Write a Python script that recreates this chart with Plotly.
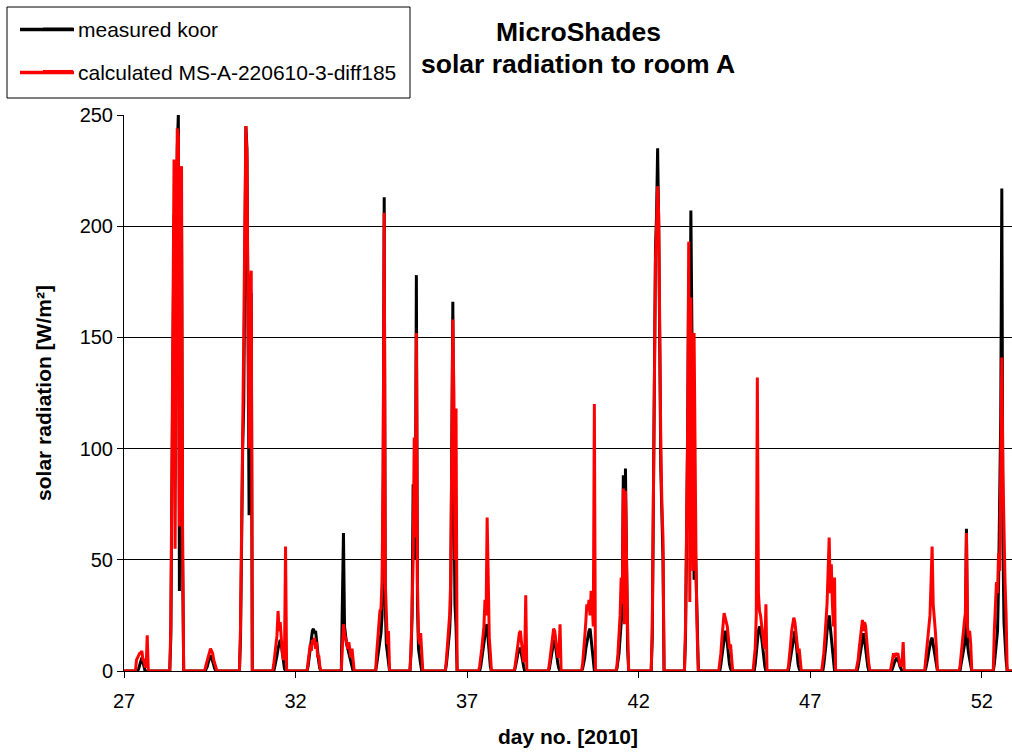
import plotly.graph_objects as go

# ---- data ----
days = list(range(27, 53))
# sample times within each day (hours)
sample_hours = [8, 8.75, 9.5, 10.25, 11, 11.75, 12.5, 13.25, 14, 14.75, 15.5, 16.25, 17, 17.75]

measured_koor = [
    [0, 0, 0, 1, 3, 5, 6, 4, 2, 0, 0, 0, 0, 0],                      # 27
    [0, 15, 90, 180, 205, 150, 200, 235, 250, 36, 190, 200, 50, 0],   # 28
    [0, 0, 1, 2, 4, 6, 7, 6, 4, 2, 1, 0, 0, 0],                       # 29
    [0, 0, 15, 70, 100, 120, 190, 245, 235, 140, 70, 165, 170, 0],    # 30
    [0, 0, 2, 4, 7, 10, 12, 14, 12, 8, 4, 1, 0, 0],                   # 31
    [0, 2, 6, 12, 16, 18, 19, 17, 18, 12, 8, 4, 1, 0],                # 32
    [0, 30, 62, 20, 15, 12, 10, 8, 5, 3, 2, 0, 0, 0],                 # 33
    [0, 3, 6, 10, 14, 17, 25, 80, 213, 30, 12, 8, 5, 0],              # 34
    [0, 8, 25, 84, 70, 50, 178, 30, 10, 5, 3, 0, 0, 0],               # 35
    [0, 0, 3, 8, 12, 18, 30, 95, 166, 80, 30, 20, 0, 0],              # 36
    [0, 0, 2, 5, 8, 12, 16, 20, 21, 14, 6, 2, 0, 0],                  # 37
    [0, 0, 1, 3, 6, 9, 10, 10, 8, 5, 2, 0, 0, 0],                     # 38
    [0, 0, 1, 4, 8, 11, 13, 14, 10, 6, 3, 1, 0, 0],                   # 39
    [0, 1, 3, 6, 10, 13, 16, 18, 19, 15, 10, 5, 0, 0],                # 40
    [0, 1, 4, 8, 15, 25, 28, 88, 25, 91, 30, 10, 0, 0],               # 41
    [0, 0, 15, 70, 140, 190, 205, 235, 200, 130, 90, 70, 50, 0],      # 42
    [0, 15, 55, 105, 180, 120, 207, 150, 60, 41, 60, 35, 10, 0],      # 43
    [0, 0, 3, 7, 12, 16, 18, 17, 12, 7, 3, 1, 0, 0],                  # 44
    [0, 0, 3, 8, 14, 18, 20, 19, 15, 10, 5, 2, 0, 0],                 # 45
    [0, 0, 3, 6, 10, 14, 17, 18, 14, 8, 3, 1, 0, 0],                  # 46
    [0, 0, 3, 7, 12, 18, 22, 25, 20, 14, 8, 3, 0, 0],                 # 47
    [0, 0, 2, 5, 9, 13, 16, 17, 14, 9, 5, 2, 0, 0],                   # 48
    [0, 0, 1, 3, 4, 5, 6, 5, 4, 2, 1, 0, 0, 0],                       # 49
    [0, 1, 3, 6, 9, 12, 14, 15, 12, 8, 4, 1, 0, 0],                   # 50
    [0, 0, 3, 6, 9, 12, 14, 64, 12, 8, 5, 2, 0, 0],                   # 51
    [0, 3, 8, 12, 18, 40, 72, 115, 217, 60, 22, 12, 5, 0],            # 52
]

calculated_ms = [
    [0, 5, 6, 7, 8, 8, 9, 5, 5, 2, 2, 16, 0, 0],                      # 27
    [0, 20, 110, 200, 230, 55, 175, 244, 240, 65, 200, 227, 60, 0],   # 28
    [0, 1, 3, 5, 7, 9, 10, 9, 8, 5, 3, 1, 0, 0],                      # 29
    [0, 0, 20, 75, 95, 150, 200, 245, 230, 150, 100, 175, 180, 0],    # 30
    [0, 3, 8, 12, 16, 27, 18, 22, 12, 8, 5, 6, 56, 0],                # 31
    [0, 4, 8, 12, 9, 14, 12, 15, 10, 13, 6, 7, 2, 0],                 # 32
    [0, 12, 21, 17, 14, 12, 10, 13, 8, 6, 10, 4, 0, 0],               # 33
    [0, 8, 15, 18, 27, 28, 40, 90, 206, 40, 20, 12, 18, 0],           # 34
    [0, 10, 28, 50, 105, 60, 152, 40, 15, 12, 17, 8, 0, 0],           # 35
    [0, 0, 5, 12, 20, 25, 40, 95, 158, 125, 50, 118, 0, 0],           # 36
    [0, 2, 5, 10, 15, 20, 32, 25, 69, 30, 15, 8, 0, 0],               # 37
    [0, 0, 2, 5, 10, 13, 17, 18, 13, 8, 4, 6, 34, 0],                 # 38
    [0, 0, 3, 7, 12, 16, 19, 18, 14, 10, 6, 8, 21, 0],                # 39
    [0, 3, 8, 15, 22, 30, 27, 32, 25, 36, 30, 20, 120, 0],            # 40
    [0, 2, 8, 15, 25, 42, 30, 82, 21, 81, 44, 20, 0, 0],              # 41
    [0, 0, 20, 80, 150, 185, 200, 218, 205, 140, 100, 74, 60, 0],     # 42
    [0, 20, 60, 110, 193, 31, 168, 90, 45, 152, 66, 40, 15, 0],       # 43
    [0, 3, 8, 15, 22, 26, 24, 22, 20, 15, 10, 12, 5, 0],              # 44
    [0, 5, 10, 25, 132, 35, 27, 25, 20, 18, 12, 10, 30, 0],           # 45
    [0, 2, 6, 12, 18, 22, 24, 22, 18, 12, 8, 10, 3, 0],               # 46
    [0, 3, 8, 15, 22, 30, 45, 60, 35, 48, 30, 20, 42, 0],             # 47
    [0, 2, 5, 10, 15, 20, 23, 18, 22, 20, 12, 8, 3, 0],               # 48
    [0, 2, 5, 8, 6, 8, 7, 8, 5, 3, 2, 4, 13, 0],                      # 49
    [0, 5, 12, 18, 20, 25, 40, 56, 30, 25, 18, 10, 0, 0],             # 50
    [0, 2, 8, 12, 18, 22, 26, 62, 20, 15, 18, 12, 0, 0],              # 51
    [0, 18, 30, 40, 35, 53, 45, 104, 141, 90, 60, 40, 25, 0],         # 52
]

# night-time zero samples at the start and end of the record
edge_times = [27.0, 52.88]
edge_values = [0, 0]

x_ticks = [27, 32, 37, 42, 47, 52]
y_ticks = [0, 50, 100, 150, 200, 250]

series_names = ["measured koor", "calculated MS-A-220610-3-diff185"]
series_colors = ["#000000", "#ff0000"]
title_lines = ["MicroShades", "solar radiation to room A"]


def build(rows):
    xs, ys = [edge_times[0]], [edge_values[0]]
    for d, row in zip(days, rows):
        for h, v in zip(sample_hours, row):
            xs.append(d + h / 24.0)
            ys.append(v)
    xs.append(edge_times[1])
    ys.append(edge_values[1])
    return xs, ys


FONT = "Liberation Sans, Arial, sans-serif"
W, H = 1012, 753
L, R, T, B = 124, 0, 115, 82
PW, PH = W - L - R, H - T - B


def px_x(px):
    return (px - L) / PW


def px_y(py):
    return (H - B - py) / PH


fig = go.Figure()
for i, rows in enumerate([measured_koor, calculated_ms]):
    xs, ys = build(rows)
    fig.add_trace(go.Scatter(
        x=xs, y=ys, mode="lines", name=series_names[i],
        legendgroup=f"g{i}",
        line=dict(color=series_colors[i], width=3),
    ))

for line_text, cy in zip(title_lines, [32, 64]):
    fig.add_annotation(
        text=f"<b>{line_text}</b>", xref="paper", yref="paper",
        x=px_x(578), y=px_y(cy), xanchor="center", yanchor="middle",
        showarrow=False, font=dict(size=26.5, family=FONT, color="black"),
    )

# legend frame (drawn as a box around the legend entries)
fig.add_shape(
    type="rect", xref="paper", yref="paper",
    x0=px_x(7), x1=px_x(410), y0=px_y(98), y1=px_y(7),
    line=dict(color="black", width=1), fillcolor="white", layer="above",
)
# longer legend key lines, as in the reference legend
for color, ky in zip(series_colors, [29.5, 72.5]):
    fig.add_shape(
        type="line", xref="paper", yref="paper",
        x0=px_x(20), x1=px_x(74), y0=px_y(ky), y1=px_y(ky),
        line=dict(color=color, width=3.5), layer="above",
    )

fig.update_layout(
    width=W, height=H,
    margin=dict(l=L, r=R, t=T, b=B, autoexpand=False),
    paper_bgcolor="white", plot_bgcolor="white",
    font=dict(family=FONT, color="black", size=20),
    showlegend=True,
    legend=dict(
        x=px_x(38), y=px_y(9), xref="paper", yref="paper",
        xanchor="left", yanchor="top",
        bgcolor="rgba(0,0,0,0)", borderwidth=0,
        font=dict(size=21, family=FONT, color="black"),
        traceorder="grouped", tracegroupgap=12,
    ),
    xaxis=dict(
        range=[27, 52.88], tickvals=x_ticks, ticktext=[str(t) for t in x_ticks],
        showgrid=False, zeroline=False, automargin=False,
        showline=True, linecolor="black", linewidth=1,
        ticks="outside", ticklen=6, tickcolor="black",
        ticklabelstandoff=6,
        tickfont=dict(size=20, family=FONT),
        title=dict(text="<b>day no. [2010]</b>", font=dict(size=21, family=FONT), standoff=18),
    ),
    yaxis=dict(
        range=[0, 250], tickvals=y_ticks,
        showgrid=True, gridcolor="black", gridwidth=1,
        zeroline=False, automargin=False,
        showline=True, linecolor="black", linewidth=1,
        ticks="outside", ticklen=6, tickcolor="black",
        tickfont=dict(size=20, family=FONT),
        title=dict(text="<b>solar radiation [W/m²]</b>", font=dict(size=21, family=FONT), standoff=22),
    ),
)

fig.write_html("out.html")
